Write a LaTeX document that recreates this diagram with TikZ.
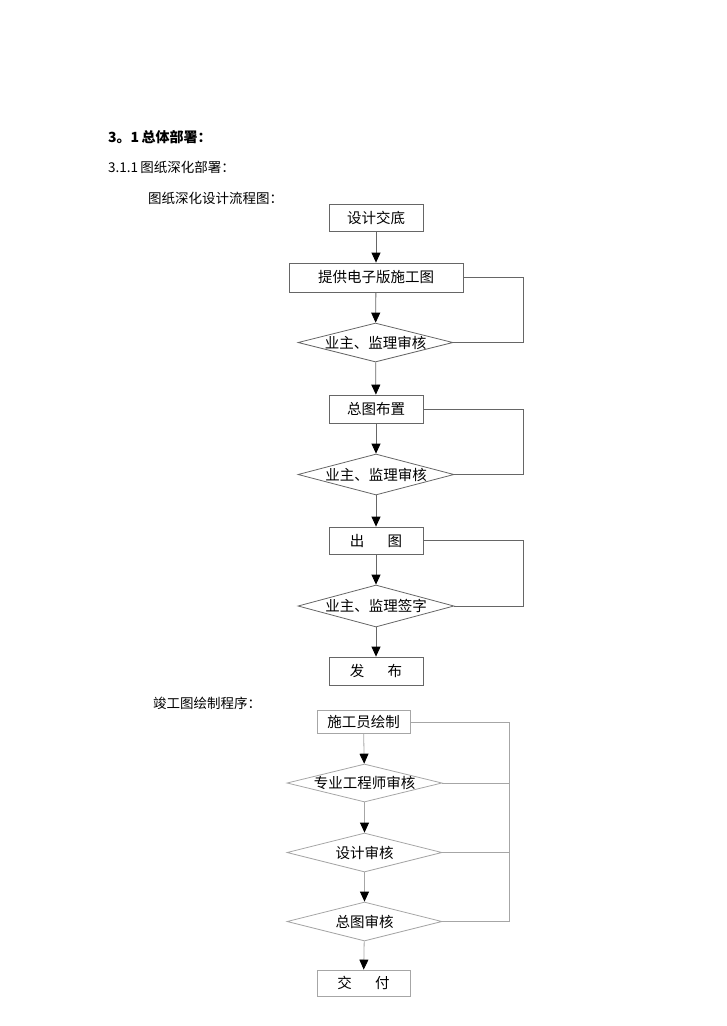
\documentclass[tikz,border=0pt]{standalone}
\usepackage{fontspec}
\setmainfont{Noto Sans CJK SC}
\usetikzlibrary{shapes.geometric,arrows.meta}
\tikzset{
	stepbox/.style={draw=black!60, line width=0.8pt, inner sep=0pt, font=\fontsize{14.5}{16}\selectfont},
	checkdia/.style={diamond, draw=black!60, line width=0.8pt, inner sep=0pt, font=\fontsize{14.5}{16}\selectfont},
	flow/.style={draw=black!60, line width=0.8pt, -{Triangle[width=9pt,length=10pt,color=black]}},
	loop/.style={draw=black!60, line width=0.8pt},
	light/.style={draw=black!35},
	title/.style={anchor=west, inner sep=0pt, font=\fontsize{13.5}{15}\selectfont}
}
\newcommand{\dtext}[1]{\makebox[0pt]{#1}}
\begin{document}
\begin{tikzpicture}[x=1pt, y=-1pt]
	\useasboundingbox (0,0) rectangle (726,1026);
	\node[title, font=\fontsize{14}{15}\selectfont\bfseries] (sec) at (108,137) {3。1\,总体部署：};
	\node[title] (sub) at (108,167) {3.1.1\,图纸深化部署：};
	\node[title] (cap1) at (148,198) {图纸深化设计流程图：};
	\node[title] (cap2) at (153,703) {竣工图绘制程序：};

	\node[stepbox, minimum width=94pt, minimum height=27pt] (brief) at (376,218) {设计交底};
	\node[stepbox, minimum width=174pt, minimum height=29pt] (elec) at (376,277.5) {提供电子版施工图};
	\node[checkdia, minimum width=155pt, minimum height=39pt] (chk1) at (375.5,342.5) {\dtext{业主、监理审核}};
	\node[stepbox, minimum width=94pt, minimum height=28pt] (layout) at (376,409) {总图布置};
	\node[checkdia, minimum width=156pt, minimum height=41pt] (chk2) at (376,474.5) {\dtext{业主、监理审核}};
	\node[stepbox, minimum width=94pt, minimum height=27pt] (issue) at (376,540.5) {出\hspace{1.6em}图};
	\node[checkdia, minimum width=156pt, minimum height=42pt] (chk3) at (376,606) {\dtext{业主、监理签字}};
	\node[stepbox, minimum width=94pt, minimum height=28pt] (pub) at (376,671) {发\hspace{1.6em}布};
	\coordinate (rail1) at (523,0);

	\draw[flow] (brief) -- (elec);
	\draw[flow] (elec) -- (chk1);
	\draw[flow] (chk1) -- (layout);
	\draw[flow] (layout) -- (chk2);
	\draw[flow] (chk2) -- (issue);
	\draw[flow] (issue) -- (chk3);
	\draw[flow] (chk3) -- (pub);
	\draw[loop] (elec.east) -- (elec.east -| rail1) |- (chk1.east);
	\draw[loop] (layout.east) -- (layout.east -| rail1) |- (chk2.east);
	\draw[loop] (issue.east) -- (issue.east -| rail1) |- (chk3.east);

	\node[stepbox, light, minimum width=93pt, minimum height=23pt] (drawing) at (363.5,722) {施工员绘制};
	\node[checkdia, light, minimum width=155pt, minimum height=38pt] (spec) at (364.5,783) {\dtext{专业工程师审核}};
	\node[checkdia, light, minimum width=155pt, minimum height=39pt] (desn) at (364.5,852.5) {\dtext{设计审核}};
	\node[checkdia, light, minimum width=155pt, minimum height=39pt] (gen) at (364.5,921.5) {\dtext{总图审核}};
	\node[stepbox, light, minimum width=93pt, minimum height=26pt] (hand) at (363.5,983) {交\hspace{1.6em}付};
	\coordinate (rail2) at (509,0);

	\draw[flow, light] (drawing) -- (spec);
	\draw[flow, light] (spec) -- (desn);
	\draw[flow, light] (desn) -- (gen);
	\draw[flow, light] (gen) -- (hand);
	\draw[loop, light] (drawing.east) -- (drawing.east -| rail2) |- (gen.east);
	\draw[loop, light] (spec.east) -- (spec.east -| rail2);
	\draw[loop, light] (desn.east) -- (desn.east -| rail2);
\end{tikzpicture}
\end{document}
